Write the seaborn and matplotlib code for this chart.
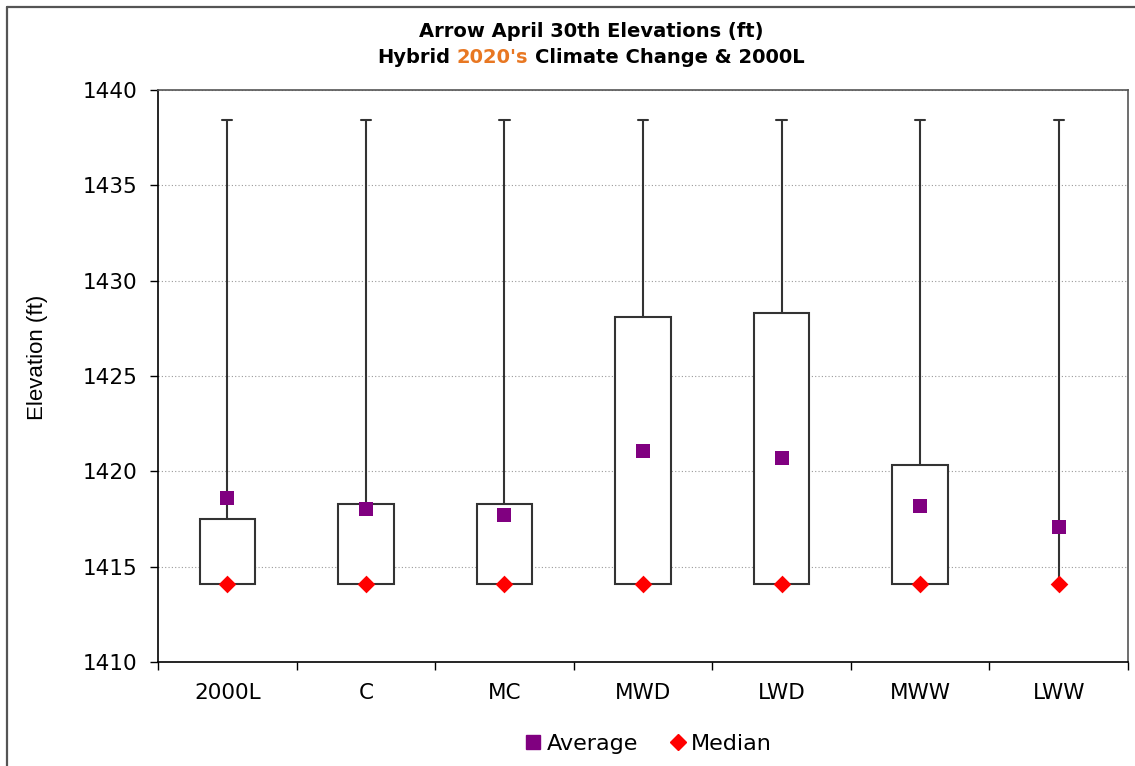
import numpy as np
import pandas as pd
import matplotlib
matplotlib.use("Agg")
import matplotlib.pyplot as plt
from matplotlib.lines import Line2D
import seaborn as sns

# Values (ft)
categories = ["2000L", "C", "MC", "MWD", "LWD", "MWW", "LWW"]
mins = [1414.1, 1414.1, 1414.1, 1414.1, 1414.1, 1414.1, 1414.1]
q1 = [1414.1, 1414.1, 1414.1, 1414.1, 1414.1, 1414.1, 1414.1]
medians = [1414.1, 1414.1, 1414.1, 1414.1, 1414.1, 1414.1, 1414.1]
q3 = [1417.5, 1418.3, 1418.3, 1428.1, 1428.3, 1420.35, 1414.1]
maxs = [1438.45, 1438.45, 1438.45, 1438.45, 1438.45, 1438.45, 1438.45]
means = [1418.6, 1418.0, 1417.7, 1421.05, 1420.7, 1418.2, 1417.1]
yticks = [1410, 1415, 1420, 1425, 1430, 1435, 1440]

PURPLE = "#800080"
RED = "#FF0000"
ORANGE = "#E87722"
W, H = 1135, 766

# five-number summaries -> long table; boxplot recovers the quartiles exactly
rows = []
for i, cat in enumerate(categories):
    for v in (mins[i], q1[i], medians[i], q3[i], maxs[i]):
        rows.append((cat, v))
df = pd.DataFrame(rows, columns=["scenario", "elev"])

sns.set_theme(style="white")
plt.rcParams["font.family"] = ["DejaVu Sans"]
plt.rcParams["text.color"] = "black"
plt.rcParams["axes.labelcolor"] = "black"

fig, ax = plt.subplots(figsize=(W / 100, H / 100), dpi=100)
ax.set_position([158 / W, 1 - 662 / H, 970 / W, 572 / H])

sns.boxplot(data=df, x="scenario", y="elev", order=categories, whis=(0, 100),
            width=0.4, color="white", linecolor="#333333", linewidth=1.5,
            fliersize=0, saturation=1, ax=ax)

# tidy the box artists: no median line, no lower caps, narrow upper caps
for c in ax.containers:
    if not hasattr(c, "caps"):
        continue
    for i in range(len(c.boxes)):
        c.medians[i].set_visible(False)
        c.caps[2 * i].set_visible(False)
        c.caps[2 * i + 1].set_xdata([i - 0.037, i + 0.037])
        if q3[i] == q1[i]:
            c.boxes[i].set_visible(False)

sns.stripplot(x=categories, y=means, order=categories, jitter=False, marker="s",
              color=PURPLE, size=10, linewidth=0, ax=ax, zorder=5)
sns.stripplot(x=categories, y=medians, order=categories, jitter=False, marker="D",
              color=RED, size=9, linewidth=0, ax=ax, zorder=6)

ax.set_xlim(-0.5, len(categories) - 0.5)
ax.set_ylim(yticks[0], yticks[-1])
ax.set_yticks(yticks)
ax.set_xticks(np.arange(-0.5, len(categories), 1), minor=True)
ax.set_xlabel("")
ax.set_ylabel("")
ax.yaxis.grid(True, linestyle=(0, (1, 2)), color="#9a9a9a", linewidth=0.8)
ax.xaxis.grid(False)

ax.tick_params(axis="x", which="major", length=0, pad=15, labelsize=15.5, colors="black")
ax.tick_params(axis="x", which="minor", length=6, width=1, direction="out", color="black", bottom=True)
ax.tick_params(axis="y", length=6, width=1, direction="out", color="black", left=True,
               pad=9, labelsize=15.5)
for t in ax.get_xticklabels() + ax.get_yticklabels():
    t.set_color("black")

for side in ["left", "bottom"]:
    ax.spines[side].set_color("black")
    ax.spines[side].set_linewidth(1.2)
for side in ["top", "right"]:
    ax.spines[side].set_color("#555555")
    ax.spines[side].set_linewidth(1.2)

# y label
fig.text(37 / W, 1 - 357 / H, "Elevation (ft)", rotation=90, ha="center", va="center",
         fontsize=16, color="black", family=["Liberation Sans", "DejaVu Sans"])

# title
fig.text(591 / W, 1 - 37 / H, "Arrow April 30th Elevations (ft)", ha="center",
         va="baseline", fontsize=14, fontweight="bold", color="black")

tkw = dict(fontsize=14, fontweight="bold", va="baseline")
renderer = fig.canvas.get_renderer()


def text_w(s):
    t = fig.text(0, 0, s, **tkw)
    w = t.get_window_extent(renderer).width
    t.remove()
    return w


full = "Hybrid 2020's Climate Change & 2000L"
x0 = 591 - text_w(full) / 2
x1 = x0 + text_w("Hybrid 2") - text_w("2")
x2 = x0 + text_w("Hybrid 2020's C") - text_w("C")
yb = 1 - 63 / H
fig.text(x0 / W, yb, "Hybrid", color="black", **tkw)
fig.text(x1 / W, yb, "2020's", color=ORANGE, **tkw)
fig.text(x2 / W, yb, "Climate Change & 2000L", color="black", **tkw)

# legend
handles = [
    Line2D([], [], marker="s", color=PURPLE, linestyle="", markersize=9.5),
    Line2D([], [], marker="D", color=RED, linestyle="", markersize=8),
]
leg = fig.legend(handles, ["Average", "Median"], loc="center", ncol=2, frameon=False,
                 bbox_to_anchor=(647 / W, 1 - 744 / H), fontsize=16, handletextpad=0.1,
                 columnspacing=1.3, handlelength=1.0)
for t in leg.get_texts():
    t.set_color("black")

# outer chart border
fig.add_artist(Line2D([7 / W, 7 / W], [0, 1 - 7 / H], transform=fig.transFigure,
                      color="#555555", linewidth=1.6))
fig.add_artist(Line2D([7 / W, 1], [1 - 7 / H, 1 - 7 / H], transform=fig.transFigure,
                      color="#555555", linewidth=1.6))

fig.savefig("out.png", dpi=100, facecolor="white")
